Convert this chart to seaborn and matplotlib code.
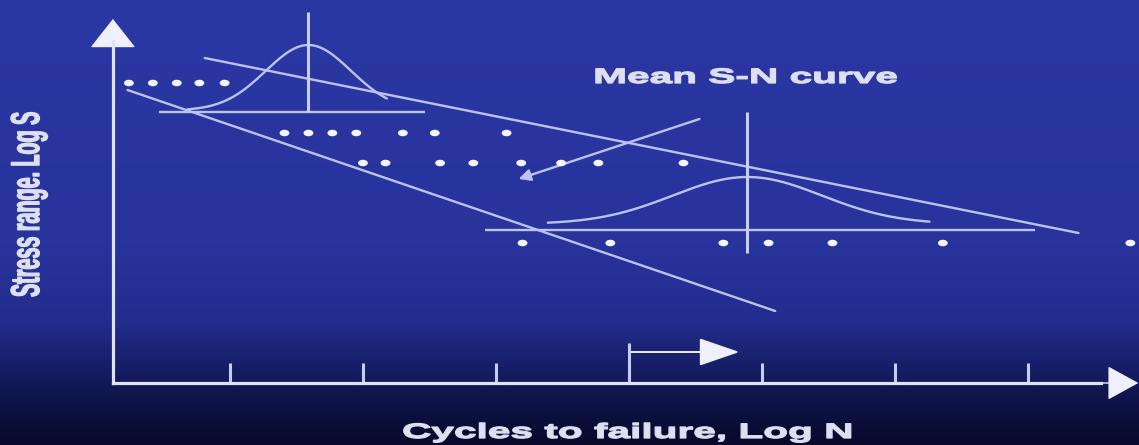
import numpy as np
import pandas as pd
import matplotlib
matplotlib.use("Agg")
import matplotlib.pyplot as plt
import seaborn as sns
from matplotlib.colors import LinearSegmentedColormap
from matplotlib.markers import MarkerStyle
from matplotlib.path import Path
from matplotlib.patheffects import AbstractPathEffect
from matplotlib.transforms import Affine2D

# --- data (log N along x, log S up) ---
# failures at each stress level
stress_levels = [6.0, 5.0, 4.4, 2.8]
row1_logN = [0.24, 0.42, 0.60, 0.77, 0.96]
row2_logN = [1.41, 1.59, 1.77, 1.95, 2.30, 2.54, 3.08]
row3_logN = [2.00, 2.17, 2.58, 2.83, 3.19, 3.49, 3.77, 4.41]
row4_logN = [3.20, 3.86, 4.71, 5.05, 5.53, 6.36, 7.77]

# the two straight lines (start, end)
upper_line_logN = [0.81, 7.38]
upper_line_logS = [6.5, 3.0]
lower_line_logN = [0.23, 5.10]
lower_line_logS = [5.86, 1.44]

# normal distributions of log N at two stress levels
bell_mean = [1.59, 4.89]
bell_sd = [0.32, 0.56]
bell_base = [5.45, 3.18]
bell_height = [1.31, 0.94]
bell_from = [0.68, 3.39]
bell_to = [2.18, 6.26]
bell_axis_logS = [5.42, 3.06]
bell_axis_from = [0.47, 2.92]
bell_axis_to = [2.47, 7.05]
bell_stem_bottom = [5.42, 2.60]
bell_stem_top = [7.42, 5.42]

# pointer to the mean curve, and the shift arrow near the x axis
pointer_from = (4.53, 5.28)
pointer_to = (3.17, 4.08)
shift_stem_logN = 4.0
shift_stem_top = 0.8
shift_logS = 0.62
shift_to_logN = 4.83

xticks = [1, 2, 3, 4, 5, 6, 7]
origin_logN = 0.12

LINE = "#bcc3f2"
AXIS = "#dfe3f7"
TEXT = "#dde0f0"
DOT = "#f3f5ff"


class Stretch(AbstractPathEffect):
    """Widen glyphs horizontally about a data x (the source picture is stretched)."""
    def __init__(self, ax, x, sx, lw=0.9):
        super().__init__()
        self.ax, self.x, self.sx, self.lw = ax, x, sx, lw

    def draw_path(self, renderer, gc, tpath, affine, rgbFace=None):
        cx = self.ax.transData.transform((self.x, 0))[0]
        a = affine + Affine2D().translate(-cx, 0).scale(self.sx, 1).translate(cx, 0)
        gc0 = renderer.new_gc()
        gc0.copy_properties(gc)
        gc0.set_linewidth(self.lw)
        gc0.set_foreground(rgbFace)
        renderer.draw_path(gc0, tpath, a, rgbFace)
        gc0.restore()


sns.set_style("white")
plt.rcParams['font.family'] = ['Liberation Sans', 'DejaVu Sans']

fig = plt.figure(figsize=(11.39, 4.45), dpi=100)
ax = fig.add_axes([0, 0, 1, 1])
xlim = (-0.729, 7.835)
ylim = (-1.24, 7.66)

# background: blue fading to dark navy at the bottom
bg = LinearSegmentedColormap.from_list("bg", [
    (0.0, "#2b37a3"), (0.55, "#28339c"), (0.72, "#232d8f"),
    (0.81, "#19206d"), (0.90, "#0f1449"), (1.0, "#07092a")])
ax.imshow(np.linspace(0, 1, 445).reshape(-1, 1), cmap=bg, aspect="auto",
          extent=(xlim[0], xlim[1], ylim[0], ylim[1]), origin="upper", zorder=0)

# dots
dots = pd.concat([
    pd.DataFrame({"logN": r, "logS": s})
    for r, s in zip([row1_logN, row2_logN, row3_logN, row4_logN], stress_levels)
])
t = np.linspace(0, 2 * np.pi, 40)
oval = MarkerStyle(Path(np.column_stack([1.5 * np.cos(t), np.sin(t)]), closed=True))
sns.scatterplot(data=dots, x="logN", y="logS", marker=oval, s=50,
                color=DOT, edgecolor="none", ax=ax, zorder=4)

# straight lines
ax.plot(upper_line_logN, upper_line_logS, color=LINE, lw=1.7, zorder=3)
ax.plot(lower_line_logN, lower_line_logS, color=LINE, lw=1.7, zorder=3)

# distributions
for i in range(2):
    xs = np.linspace(bell_from[i], bell_to[i], 200)
    ys = bell_base[i] + bell_height[i] * np.exp(-0.5 * ((xs - bell_mean[i]) / bell_sd[i]) ** 2)
    sns.lineplot(x=xs, y=ys, color=LINE, lw=1.7, ax=ax, zorder=3)
    ax.hlines(bell_axis_logS[i], bell_axis_from[i], bell_axis_to[i], color=LINE, lw=1.7, zorder=3)
    ax.vlines(bell_mean[i], bell_stem_bottom[i], bell_stem_top[i], color="#c9cff4", lw=2.2,
              zorder=3, clip_on=False)

# pointer arrow
ax.annotate("", xy=pointer_to, xytext=pointer_from,
            arrowprops=dict(arrowstyle="-|>,head_length=0.5,head_width=0.25",
                            mutation_scale=14, color=LINE, lw=1.7, shrinkA=0, shrinkB=0))

# axes with arrowheads
for side in ["top", "right"]:
    ax.spines[side].set_visible(False)
ax.spines["bottom"].set_position(("data", 0))
ax.spines["left"].set_position(("data", origin_logN))
ax.spines["bottom"].set_bounds(origin_logN, 7.55)
ax.spines["left"].set_bounds(0, 6.85)
for side in ["bottom", "left"]:
    ax.spines[side].set_color(AXIS)
    ax.spines[side].set_linewidth(2.3)
    ax.spines[side].set_zorder(5)
ax.set_xticks(xticks)
ax.set_yticks([])
ax.tick_params(axis="x", bottom=True, direction="in", length=14.5, width=2.2,
               color="#c6ccf2", labelbottom=False)
ax.annotate("", xy=(7.83, 0), xytext=(7.3, 0),
            arrowprops=dict(arrowstyle="-|>,head_length=1.0,head_width=0.55",
                            mutation_scale=20, color="#eef0fb", lw=1, shrinkA=0, shrinkB=0))
ax.annotate("", xy=(origin_logN, 7.28), xytext=(origin_logN, 6.7),
            arrowprops=dict(arrowstyle="-|>,head_length=0.95,head_width=0.75",
                            mutation_scale=20, color="#eef0fb", lw=1, shrinkA=0, shrinkB=0))

# shift of the distribution
ax.vlines(shift_stem_logN, 0, shift_stem_top, color="#c6ccf2", lw=2.2, zorder=5)
ax.annotate("", xy=(shift_to_logN, shift_logS), xytext=(shift_stem_logN, shift_logS),
            arrowprops=dict(arrowstyle="-|>,head_length=1.6,head_width=0.55",
                            mutation_scale=16, color="#eef0fb", lw=1.4, shrinkA=0, shrinkB=0))

# texts
ax.text(4.88, 6.0, "Mean S-N curve", ha="center", va="baseline", fontsize=15,
        fontweight="bold", color=TEXT, path_effects=[Stretch(ax, 4.88, 1.95)])
ax.text(4.0, -1.1, "Cycles to failure, Log N", ha="center", va="baseline", fontsize=15,
        fontweight="bold", color=TEXT, path_effects=[Stretch(ax, 4.0, 1.95)], clip_on=False)
ax.text(-0.52, 3.58, "Stress range. Log S", ha="center", va="center", rotation=90,
        fontsize=14.2, fontweight="bold", color=TEXT, path_effects=[Stretch(ax, -0.52, 2.05)])

ax.set_xlim(*xlim)
ax.set_ylim(*ylim)
ax.set_xlabel("")
ax.set_ylabel("")

fig.savefig("out.png", dpi=100)
